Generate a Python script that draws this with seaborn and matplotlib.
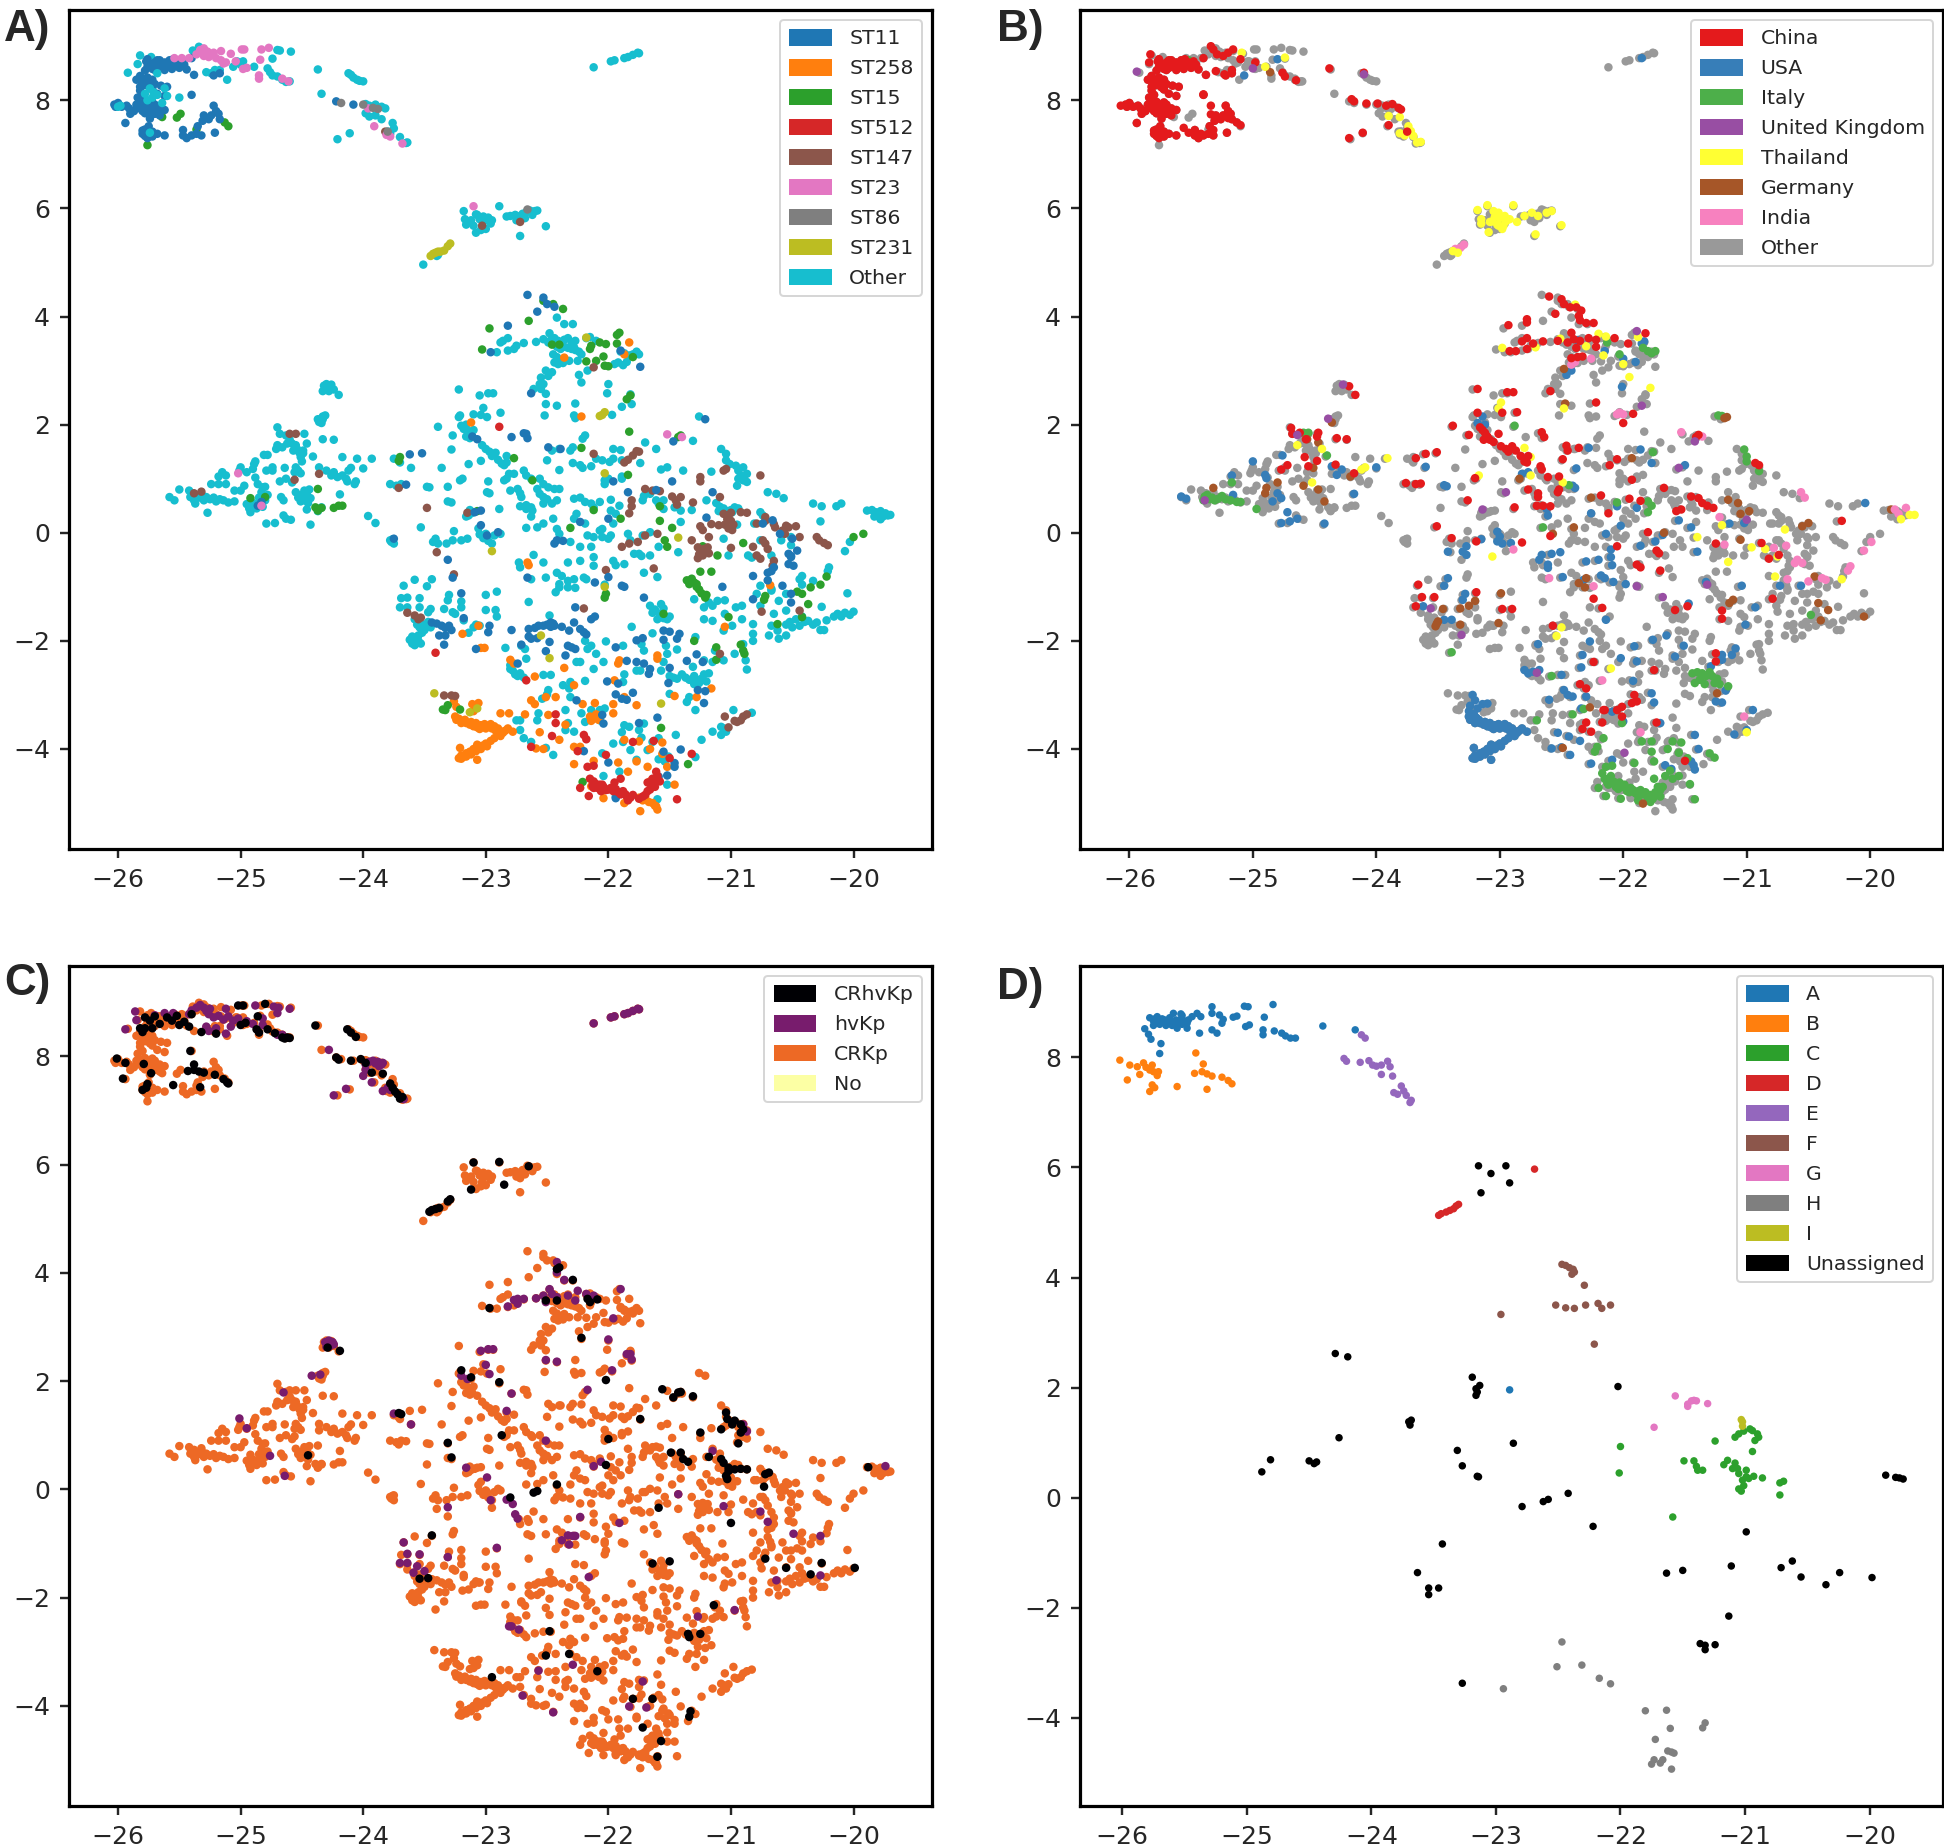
"""
plot.py
Four UMAP style scatter panels coloured by ST, country, virulence class and clade.
"""

import matplotlib
matplotlib.use("Agg")
import matplotlib.pyplot as plt
from matplotlib.patches import Patch
import pandas as pd
import seaborn as sns

# points that carry no overlay label in panel A
CLOUD_TOP = [
    (-25.82,8.83),(-25.73,8.8),(-25.92,8.51),(-25.84,8.67),(-25.34,8.99),(-25.39,8.92),(-25.28,8.52),(-25.24,8.5),
    (-25.21,8.56),(-25.17,8.56),(-25.11,8.38),(-25.06,8.62),(-25.03,8.72),(-24.98,8.72),(-25.0,8.66),(-24.89,8.62),
    (-24.74,8.77),(-24.7,8.93),(-24.68,8.92),(-24.59,8.9),(-24.78,8.59),(-24.76,8.52),(-24.74,8.46),(-24.7,8.44),
    (-24.66,8.38),(-24.63,8.34),(-24.6,8.35),(-24.37,8.57),(-24.34,8.12),(-24.12,8.5),(-24.1,8.47),(-24.08,8.42),
    (-24.05,8.38),(-24.03,8.36),(-24.0,8.35),(-24.21,7.28),(-24.11,7.39),(-23.98,7.93),(-23.95,7.9),(-23.9,7.92),
    (-23.85,7.88),(-23.82,7.85),(-23.98,7.76),(-23.95,7.7),(-23.9,7.72),(-23.85,7.65),(-23.76,7.58),(-23.75,7.48),
    (-23.7,7.32),(-23.78,7.38),(-23.8,7.42),(-23.65,7.21),(-23.64,7.22),(-22.12,8.61),(-21.98,8.72),(-21.95,8.74),
    (-21.87,8.78),(-21.84,8.8),(-21.8,8.84),(-21.76,8.88),(-21.75,8.87),(-23.18,5.95),(-23.08,5.89),(-23.17,5.8),
    (-23.16,5.7),(-23.12,5.78),(-23.07,5.88),(-23.05,5.8),(-23.02,5.85),(-23.0,5.78),(-22.96,5.72),(-22.98,5.83),
    (-23.1,5.68),(-23.08,5.55),(-23.04,5.6),(-23.0,5.62),(-22.95,5.78),(-22.89,6.04),(-22.83,5.85),(-22.8,5.86),
    (-22.76,5.88),(-22.73,5.85),(-22.7,5.9),(-22.67,5.93),(-22.64,5.96),(-22.62,5.88),(-22.6,5.95),(-22.58,5.96),
    (-22.68,5.82),(-22.75,5.78),(-22.51,5.67),(-22.72,5.49),(-23.39,5.14),(-23.4,5.12),(-23.51,4.96),
]
CLOUD_UPPER = [
    (-22.42,3.98),(-22.36,3.86),(-22.29,3.86),(-22.86,3.55),(-22.88,3.52),(-22.82,3.6),(-22.75,3.46),(-22.69,3.51),
    (-22.77,3.4),(-22.91,3.34),(-22.82,3.37),(-22.59,3.53),(-22.53,3.58),(-22.48,3.69),(-22.49,3.52),(-22.47,3.56),
    (-22.44,3.6),(-22.41,3.55),(-22.38,3.5),(-22.36,3.57),(-22.33,3.6),(-22.3,3.52),(-22.27,3.55),(-22.42,3.44),
    (-22.39,3.4),(-22.36,3.44),(-22.33,3.42),(-22.3,3.4),(-22.27,3.38),(-22.24,3.35),(-22.22,3.3),(-22.45,3.3),
    (-22.42,3.25),(-22.4,3.2),(-22.44,3.15),(-22.41,3.12),(-22.37,3.14),(-22.32,3.18),(-22.25,3.18),(-22.28,3.43),
    (-22.18,3.6),(-22.15,3.62),(-22.1,3.55),(-21.9,3.35),(-21.87,3.32),(-21.83,3.28),(-21.8,3.3),(-21.77,3.35),
    (-21.75,3.3),(-21.95,3.12),(-21.92,3.15),(-21.88,3.1),(-21.85,3.16),(-22.51,3.0),(-22.46,2.97),(-22.49,2.9),
    (-22.55,2.87),(-22.53,2.75),(-22.56,2.75),(-22.61,2.66),(-22.55,2.66),(-22.51,2.57),(-22.24,2.92),(-22.17,3.0),
    (-22.22,2.78),(-22.0,2.75),(-22.01,2.58),(-21.81,2.38),(-21.89,2.33),(-21.82,2.56),(-22.51,2.38),(-22.42,2.35),
    (-22.27,2.39),(-22.52,2.17),(-22.28,2.17),(-22.27,2.12),(-21.97,2.18),(-23.05,2.54),(-22.98,2.58),(-22.94,2.58),
    (-23.22,2.65),(-24.33,2.62),(-24.32,2.72),(-24.3,2.75),(-24.27,2.68),(-24.26,2.74),(-24.24,2.65),(-24.28,2.62),
    (-24.2,2.55),(-24.37,2.1),(-24.36,2.05),(-24.33,2.1),(-24.33,2.15),(-24.31,2.17),(-24.34,2.03),
]
CLOUD_LEFT = [
    (-24.7,1.95),(-24.68,1.83),(-24.63,1.8),(-24.6,1.72),(-24.58,1.65),(-24.55,1.62),(-24.62,1.65),(-24.66,1.58),
    (-24.7,1.62),(-24.71,1.55),(-24.57,1.52),(-24.54,1.55),(-24.52,1.48),(-24.49,1.52),(-24.46,1.65),(-24.48,1.83),
    (-24.33,1.73),(-24.24,1.72),(-24.41,1.41),(-24.5,1.32),(-24.51,1.4),(-24.49,1.47),(-24.81,1.44),(-24.78,1.44),
    (-24.88,1.32),(-24.89,1.27),(-25.0,1.21),(-25.01,1.15),(-24.95,1.12),(-24.9,1.18),(-24.79,1.15),(-24.74,1.21),
    (-24.74,1.15),(-24.64,1.2),(-24.55,1.21),(-24.53,1.15),(-24.51,1.1),(-24.56,1.12),(-24.63,1.0),(-25.15,1.12),
    (-25.18,1.04),(-25.12,1.06),(-25.24,0.9),(-25.18,0.9),(-25.12,0.9),(-25.05,0.78),(-25.0,0.78),(-24.97,0.87),
    (-24.88,1.02),(-24.86,0.9),(-24.82,0.84),(-24.8,0.85),(-24.83,0.75),(-24.78,0.7),(-24.85,0.65),(-24.9,0.55),
    (-24.86,0.5),(-24.68,0.95),(-24.58,0.93),(-24.36,1.21),(-24.3,1.15),(-24.26,1.06),(-24.24,1.12),(-24.21,1.03),
    (-24.17,1.06),(-24.14,1.0),(-24.12,1.15),(-24.1,1.2),(-24.17,1.4),(-24.05,1.37),(-23.93,1.37),(-24.0,1.19),
    (-24.06,0.95),(-24.07,0.9),(-24.13,0.95),(-24.19,0.71),(-24.55,0.75),(-24.53,0.65),(-24.5,0.7),(-24.48,0.78),
    (-24.46,0.72),(-24.44,0.8),(-24.51,0.58),(-24.48,0.6),(-24.45,0.55),(-24.43,0.64),(-24.47,0.66),(-24.67,0.66),
    (-24.65,0.6),(-24.46,0.43),(-24.37,0.4),(-24.34,0.47),(-24.95,0.53),(-24.93,0.45),(-24.92,0.38),(-24.9,0.5),
    (-24.87,0.45),(-24.85,0.55),(-24.82,0.48),(-24.8,0.6),(-24.79,0.17),(-24.72,0.18),(-24.65,0.32),(-24.63,0.26),
    (-24.59,0.24),(-24.43,0.15),(-25.27,0.37),(-25.58,0.66),(-25.54,0.6),(-25.5,0.8),(-25.42,0.78),(-25.41,0.66),
    (-25.38,0.72),(-25.38,0.6),(-25.37,0.54),(-25.35,0.66),(-25.33,0.65),(-25.3,0.6),(-25.28,0.66),(-25.25,0.62),
    (-25.22,0.65),(-25.2,0.58),(-25.17,0.62),(-25.14,0.6),(-25.1,0.56),(-25.05,0.58),(-25.32,0.72),(-23.96,0.31),
    (-23.9,0.18),(-23.53,0.1),(-23.77,-0.17),(-23.78,-0.14),(-23.75,-0.2),(-23.76,-0.12),(-23.78,0.9),(-23.73,0.87),
    (-23.69,0.9),(-23.61,1.2),(-23.36,1.2),(-23.75,1.37),(-23.7,1.3),
]
CLOUD_CENTRE = [
    (-23.39,1.96),(-23.27,1.8),(-23.28,1.54),(-23.21,2.17),(-23.22,2.14),(-23.1,2.19),(-23.02,2.31),(-22.99,2.14),
    (-22.88,2.22),(-23.04,2.18),(-23.2,1.98),(-23.18,1.92),(-23.16,2.0),(-23.14,1.88),(-23.12,1.82),(-23.16,1.78),
    (-23.13,1.75),(-23.1,1.9),(-23.03,1.62),(-23.0,1.55),(-22.97,1.5),(-22.95,1.42),(-22.92,1.48),(-22.9,1.35),
    (-22.87,1.28),(-22.85,1.25),(-22.83,1.42),(-22.83,1.3),(-23.14,1.27),(-23.04,1.33),(-23.19,1.0),(-23.21,0.97),
    (-22.98,0.95),(-22.99,0.75),(-22.97,0.73),(-23.48,0.85),(-23.31,0.85),(-23.46,0.84),(-22.83,1.0),(-22.81,1.09),
    (-22.77,1.09),(-22.85,0.97),(-22.69,1.15),(-22.67,1.06),(-22.63,1.0),(-22.56,1.0),(-22.53,0.9),(-22.49,0.84),
    (-22.44,0.81),(-22.4,0.81),(-22.58,0.81),(-22.56,0.72),(-22.53,0.66),(-22.5,0.62),(-22.46,0.54),(-22.42,0.6),
    (-22.53,0.54),(-22.8,0.78),(-22.74,0.81),(-22.72,0.73),(-22.71,0.66),(-23.31,0.58),(-23.28,0.56),(-22.72,0.49),
    (-22.67,0.51),(-22.63,0.47),(-22.62,0.41),(-22.67,0.44),(-22.89,0.44),(-23.13,0.42),(-23.12,0.36),(-23.1,0.38),
    (-23.14,0.32),(-23.16,0.3),(-23.26,0.03),(-23.41,-0.11),(-23.43,-0.17),(-23.39,-0.2),(-23.32,-0.2),(-23.27,-0.14),
    (-23.2,-0.14),(-23.15,-0.11),(-23.06,0.08),(-23.05,-0.03),(-23.02,-0.1),(-23.0,-0.02),(-22.98,-0.15),(-22.95,-0.2),
    (-22.93,-0.05),(-22.88,-0.02),(-22.67,0.09),(-22.58,0.1),(-22.53,0.17),(-22.45,0.26),(-22.63,0.3),(-22.42,0.07),
    (-22.4,-0.02),(-22.23,0.65),(-22.28,0.63),(-22.19,0.57),(-22.14,0.54),(-22.07,0.57),(-21.98,0.61),(-21.91,0.5),
    (-21.94,0.35),(-21.98,0.41),(-22.26,0.35),(-22.28,0.26),(-22.19,0.17),(-22.12,0.47),(-22.12,-0.08),(-22.05,-0.08),
    (-22.0,-0.11),(-21.98,-0.05),(-22.17,-0.05),(-22.31,-0.17),(-22.23,-0.26),(-22.14,-0.26),(-22.12,-0.45),(-22.05,0.07),
    (-22.07,0.04),(-21.96,0.17),(-21.96,1.55),(-21.9,1.53),(-21.96,1.37),(-22.29,1.58),(-22.31,1.52),(-22.4,1.55),
    (-22.5,1.34),(-22.46,1.52),(-22.29,1.29),(-22.23,1.25),(-22.21,1.2),(-22.14,1.23),(-22.1,1.37),(-22.05,1.34),
    (-21.99,1.31),(-21.89,1.34),(-21.74,1.29),(-22.4,1.16),(-22.19,1.8),(-22.21,1.74),(-22.03,0.97),(-22.0,1.0),
    (-21.89,1.0),(-22.03,0.9),(-21.89,1.04),(-21.61,1.55),(-21.7,1.67),(-21.31,1.7),(-21.26,2.15),(-21.71,0.68),
    (-21.66,0.72),(-21.72,0.6),(-21.61,0.6),(-21.59,0.54),(-21.55,0.44),(-21.46,0.47),(-21.41,0.41),(-21.32,0.42),
    (-21.41,0.2),(-21.55,0.6),(-21.84,-0.02),(-21.72,-0.05),(-21.66,0.01),(-21.82,-0.14),(-21.75,-0.39),(-21.79,-0.39),
    (-21.66,-0.42),(-21.59,-0.26),(-21.43,-0.36),
]
CLOUD_RIGHT = [
    (-21.08,1.55),(-21.04,1.46),(-21.04,1.34),(-21.01,1.27),(-20.96,1.24),(-20.94,1.15),(-20.9,1.21),(-20.92,1.06),
    (-20.87,1.09),(-20.94,1.0),(-20.9,0.97),(-20.87,0.94),(-20.95,0.87),(-21.16,1.13),(-21.39,1.15),(-21.52,1.21),
    (-21.57,1.17),(-20.7,0.75),(-20.63,0.72),(-20.57,0.64),(-21.12,0.55),(-21.09,0.48),(-21.06,0.45),(-21.03,0.4),
    (-21.0,0.42),(-20.97,0.47),(-21.1,0.4),(-20.99,0.38),(-20.94,0.45),(-21.2,0.6),(-19.89,0.41),(-19.85,0.42),
    (-19.82,0.38),(-19.78,0.4),(-19.8,0.33),(-19.76,0.3),(-19.74,0.36),(-19.72,0.32),(-19.7,0.33),(-19.78,0.25),
    (-19.83,0.3),(-20.33,0.54),(-20.26,0.49),(-20.14,0.49),(-20.1,0.54),(-20.27,0.21),(-20.03,-0.17),(-20.07,-0.34),
    (-20.76,0.38),(-20.74,0.32),(-20.81,0.17),(-20.95,0.15),(-20.51,-0.08),(-20.59,-0.14),(-20.76,-0.14),(-20.67,-0.42),
    (-20.51,-0.23),(-21.02,-0.42),(-20.86,-0.42),(-21.06,-0.11),
]
CLOUD_LOWER = [
    (-23.67,-0.98),(-23.58,-0.87),(-23.48,-0.99),(-23.44,-0.86),(-23.69,-1.21),(-23.64,-1.2),(-23.54,-1.21),(-23.7,-1.38),
    (-23.64,-1.38),(-23.54,-1.38),(-23.45,-1.41),(-23.47,-1.47),(-23.31,-1.25),(-23.3,-1.15),(-23.2,-1.27),(-23.2,-1.38),
    (-23.34,-1.41),(-23.25,-1.5),(-23.27,-1.47),(-23.18,-1.62),(-23.58,-1.6),(-23.56,-1.7),(-23.54,-1.75),(-23.52,-1.85),
    (-23.5,-1.8),(-23.55,-1.9),(-23.58,-1.95),(-23.6,-2.05),(-23.62,-1.98),(-23.58,-2.08),(-23.55,-2.0),(-23.53,-2.05),
    (-23.6,-1.92),(-23.5,-1.7),(-23.47,-1.65),(-23.45,-1.75),(-23.1,-1.75),(-23.14,-1.85),(-23.08,-1.7),(-23.05,-1.72),
    (-23.0,-1.15),(-22.91,-1.09),(-23.0,-1.43),(-22.92,-1.43),(-22.91,-1.55),(-22.65,-1.28),(-22.84,-2.13),(-22.71,-2.09),
    (-22.68,-2.15),(-22.67,-2.33),(-22.8,-2.45),(-22.78,-2.55),(-22.76,-2.62),(-22.74,-2.65),(-22.8,-2.52),(-22.72,-2.6),
    (-22.69,-2.68),(-22.53,-2.63),(-22.47,-2.63),(-22.57,-3.34),(-22.58,-3.47),(-22.75,-3.47),(-22.72,-3.47),(-22.72,-3.65),
    (-22.69,-3.8),(-22.63,-3.87),(-22.51,-3.98),(-22.45,-4.11),(-22.48,-1.53),(-22.49,-2.91),(-22.5,-2.99),(-22.54,-3.07),
    (-22.31,-2.76),(-22.37,-2.82),(-22.32,-2.88),(-22.19,-2.74),(-22.31,-3.04),(-22.35,-3.28),(-22.22,-3.34),(-22.14,-3.28),
    (-22.07,-3.28),(-22.03,-3.25),(-22.33,-3.52),(-22.35,-3.65),(-22.28,-3.68),(-22.19,-3.5),(-22.07,-3.47),(-22.23,-2.39),
    (-22.26,-2.39),(-22.12,-2.52),(-22.04,-2.39),(-22.1,-2.24),(-22.02,-2.01),(-21.88,-2.09),(-22.19,-2.0),(-22.17,-2.15),
    (-22.14,-2.09),(-21.81,-1.74),(-21.64,-1.86),(-21.73,-2.06),(-21.71,-2.18),(-21.53,-2.09),(-21.44,-2.16),(-21.52,-2.24),
    (-21.55,-2.39),(-21.57,-2.55),(-21.77,-2.55),(-21.74,-2.55),(-21.87,-2.62),(-21.88,-2.76),(-21.5,-2.65),(-21.47,-2.68),
    (-21.44,-2.7),(-21.4,-2.62),(-21.37,-2.68),(-21.34,-2.72),(-21.3,-2.65),(-21.28,-2.72),(-21.26,-2.78),(-21.24,-2.7),
    (-21.3,-2.8),(-21.22,-2.62),(-21.2,-2.75),(-21.31,-2.48),(-21.18,-2.6),(-21.22,-2.36),(-21.15,-2.39),(-21.13,-2.18),
    (-21.06,-2.36),(-20.97,-2.24),(-20.9,-2.06),(-20.88,-2.36),(-20.87,-2.53),(-21.5,-2.98),(-21.36,-3.13),(-21.29,-3.28),
    (-21.34,-3.04),(-21.24,-3.83),(-21.15,-3.68),(-21.08,-3.59),(-21.08,-3.74),(-21.04,-3.68),(-21.06,-3.62),(-20.98,-3.28),
    (-20.83,-3.33),(-21.89,-3.69),(-21.83,-3.59),(-21.75,-3.65),(-21.71,-3.53),(-21.87,-3.56),(-21.45,-3.74),(-21.59,-3.8),
    (-21.64,-3.87),(-21.73,-3.79),(-21.88,-3.87),(-21.96,-3.9),(-21.82,-4.02),(-21.68,-4.02),(-21.59,-4.19),(-21.54,-4.23),
    (-21.51,-4.14),(-21.29,-4.15),(-22.05,-4.08),(-21.77,-4.2),(-21.91,-4.42),(-22.04,-4.5),(-21.52,-4.66),(-21.94,-4.88),
    (-21.6,-4.93),(-21.89,-4.79),(-21.6,-0.82),(-21.71,-0.74),(-21.73,-0.43),(-21.87,-0.58),(-21.94,-0.6),(-21.96,-0.52),
    (-22.42,-0.74),(-22.38,-0.8),(-22.33,-0.89),(-22.4,-0.95),(-22.28,-0.86),(-22.33,-1.01),(-22.4,-1.01),(-22.27,-1.02),
    (-22.2,-0.83),(-22.18,-0.86),(-22.51,-0.83),(-22.63,-0.86),(-22.43,-1.1),(-22.03,-0.96),(-22.12,-0.61),(-22.23,-0.52),
    (-22.33,-0.55),(-22.73,-0.55),(-22.72,-0.64),(-22.61,-0.41),(-22.53,-0.55),(-21.66,-1.35),(-21.62,-1.42),(-21.58,-1.5),
    (-21.55,-1.58),(-21.6,-1.6),(-21.55,-1.4),(-21.52,-1.6),(-21.5,-1.55),(-21.64,-1.48),(-21.57,-1.32),(-21.29,-1.93),
    (-21.22,-1.38),(-21.22,-1.6),(-21.15,-1.63),(-21.3,-1.23),(-21.18,-1.29),(-21.15,-1.35),(-21.05,-1.25),(-21.11,-1.26),
    (-21.05,-1.5),(-20.96,-1.38),(-20.91,-1.35),(-20.91,-1.6),(-20.82,-1.69),(-20.82,-1.87),(-20.82,-2.0),(-21.06,-1.81),
    (-20.99,-1.72),(-20.79,-1.13),(-20.76,-1.35),(-20.67,-1.04),(-20.61,-1.26),(-20.55,-1.13),(-20.55,-1.44),(-20.65,-1.5),
    (-20.67,-1.72),(-20.69,-1.9),(-20.61,-1.96),(-20.55,-1.9),(-20.62,-1.81),(-20.55,-1.7),(-20.52,-1.65),(-20.5,-1.75),
    (-20.47,-1.6),(-20.44,-1.72),(-20.42,-1.55),(-20.4,-1.65),(-20.37,-1.63),(-20.33,-1.7),(-20.3,-1.66),(-20.27,-1.8),
    (-20.24,-1.8),(-20.22,-1.62),(-20.16,-1.55),(-20.13,-1.5),(-20.1,-1.55),(-20.07,-1.48),(-20.03,-1.52),(-20.0,-1.46),
    (-20.26,-1.37),(-20.05,-1.12),(-20.44,-0.86),(-20.42,-0.96),(-20.33,-0.89),(-20.2,-0.64),(-20.21,-0.71),(-20.76,-0.98),
    (-20.67,-1.07),(-20.42,-0.8),(-20.83,-0.46),
]
OTHER_OVER = [
    (-25.74,8.22),(-25.71,8.15),(-25.68,8.1),(-25.72,8.05),(-25.6,8.08),(-25.78,8.12),(-25.74,7.4),(-25.76,8.0),
    (-25.68,8.5),(-25.62,8.22),(-26.0,7.88),(-25.98,7.9),(-25.64,7.95),(-25.5,8.05),
]

# panel A overlays
ST11_TOP = [
    (-25.77,8.72),(-25.74,8.66),(-25.7,8.7),(-25.66,8.74),(-25.72,8.58),(-25.68,8.6),(-25.64,8.66),(-25.6,8.68),
    (-25.58,8.62),(-25.55,8.76),(-25.52,8.7),(-25.5,8.6),(-25.46,8.66),(-25.44,8.57),(-25.78,8.55),(-25.62,8.56),
    (-25.48,8.72),(-25.38,8.47),(-25.22,8.46),(-25.17,8.5),(-25.4,8.78),(-25.85,8.38),(-25.82,8.45),(-25.8,8.35),
    (-25.76,8.42),(-25.74,8.3),(-25.7,8.3),(-25.65,8.27),(-25.82,8.18),(-25.72,8.2),(-25.6,8.25),(-25.8,8.1),
    (-25.84,8.05),(-25.68,8.12),(-25.62,8.08),(-25.4,8.1),(-26.03,7.92),(-26.0,7.95),(-26.02,7.88),(-25.97,7.88),
    (-25.93,7.9),(-25.91,7.85),(-25.85,7.92),(-25.82,7.95),(-25.78,7.97),(-25.75,7.92),(-25.72,7.96),(-25.82,7.85),
    (-25.78,7.85),(-25.74,7.85),(-25.7,7.85),(-25.66,7.85),(-25.62,7.82),(-25.78,7.76),(-25.74,7.72),(-25.7,7.75),
    (-25.66,7.72),(-25.9,7.75),(-25.87,7.8),(-25.94,7.58),(-25.78,7.46),(-25.75,7.52),(-25.72,7.42),(-25.8,7.38),
    (-25.76,7.3),(-25.72,7.33),(-25.68,7.38),(-25.62,7.35),(-25.47,7.35),(-25.44,7.3),(-25.4,7.35),(-25.36,7.38),
    (-25.32,7.35),(-25.21,7.4),(-25.47,7.45),(-25.35,7.52),(-25.31,7.62),(-25.3,7.72),(-25.26,7.65),(-25.24,7.72),
    (-25.2,7.8),(-25.18,7.75),(-25.17,7.65),(-25.22,7.9),(-25.76,8.76),(-25.72,8.66),(-25.68,8.74),(-25.66,8.62),
    (-25.62,8.7),(-25.58,8.74),(-25.56,8.58),(-25.54,8.68),(-25.76,8.62),(-25.7,8.56),(-25.8,7.9),(-25.76,7.9),
    (-25.72,7.88),(-25.68,7.8),(-25.8,7.8),(-25.76,7.8),(-25.72,7.78),(-25.74,7.66),(-25.78,7.92),(-25.7,7.92),
    (-25.76,7.42),(-25.78,7.34),(-25.74,7.36),(-25.8,7.44),(-25.82,8.25),(-25.78,8.28),(-25.74,8.24),(-25.72,8.38),
]
ST11_MAIN = [
    (-22.66,4.4),(-22.53,4.35),(-22.5,4.23),(-22.44,4.18),(-22.58,4.09),(-22.82,3.83),(-22.96,3.34),(-21.74,3.07),
    (-21.9,3.37),(-22.63,2.58),(-24.22,7.98),(-24.08,7.92),(-23.62,1.45),(-23.52,1.47),(-23.65,0.89),(-24.86,0.5),
    (-24.83,0.57),(-23.11,1.78),(-23.07,1.73),(-22.79,1.77),(-22.67,1.83),(-22.69,1.84),(-22.66,1.75),(-22.49,1.58),
    (-22.39,1.55),(-21.48,0.95),(-21.15,0.75),(-21.96,0.95),(-21.84,0.75),(-21.61,0.79),(-21.21,2.1),(-21.47,1.69),
    (-21.2,0.28),(-20.74,0.17),(-20.66,0.23),(-20.6,-0.02),(-20.5,-0.11),(-20.53,-0.39),(-20.46,-0.33),(-20.51,-0.45),
    (-22.0,0.26),(-22.23,0.2),(-22.42,-0.14),(-22.44,-0.2),(-22.37,-0.15),(-23.04,0.14),(-22.99,-0.05),(-22.9,0.01),
    (-23.04,0.41),(-23.09,0.38),(-23.75,-0.11),(-23.31,-0.5),(-20.51,-0.43),(-20.53,-0.58),(-20.49,-0.61),(-20.65,-0.64),
    (-20.67,-0.71),(-20.7,-0.74),(-20.7,-0.88),(-21.07,-1.0),(-20.82,-1.23),(-20.82,-0.8),(-20.51,-1.13),(-20.51,-1.29),
    (-20.58,-0.98),(-21.71,-1.2),(-21.89,-0.98),(-21.87,-1.0),(-22.11,-0.92),(-22.0,-0.82),(-22.66,-0.83),(-23.27,-0.83),
    (-23.2,-1.12),(-23.44,-1.66),(-23.4,-1.68),(-23.36,-1.72),(-23.33,-1.76),(-23.3,-1.72),(-23.28,-1.8),(-23.33,-1.9),
    (-23.38,-1.9),(-23.34,-2.07),(-23.18,-1.58),(-22.97,-1.72),(-22.98,-1.84),(-22.79,-1.8),(-23.08,-2.15),(-22.6,-1.76),
    (-22.57,-1.72),(-22.53,-1.72),(-22.5,-1.7),(-22.47,-1.74),(-22.45,-1.68),(-22.44,-1.72),(-22.47,-1.66),(-22.65,-1.78),
    (-22.65,-1.92),(-22.63,-1.96),(-22.58,-1.95),(-22.38,-1.74),(-22.32,-1.81),(-22.28,-1.66),(-22.23,-1.78),(-22.2,-1.84),
    (-22.18,-1.88),(-22.14,-1.6),(-22.11,-1.55),(-22.27,-1.38),(-22.48,-2.02),(-22.51,-2.19),(-22.33,-2.09),(-22.3,-2.12),
    (-22.27,-2.15),(-22.35,-2.27),(-22.71,-2.07),(-22.74,-2.42),(-21.94,-2.12),(-21.77,-1.99),(-21.72,-1.95),(-21.55,-1.81),
    (-21.55,-1.98),(-21.5,-1.83),(-21.42,-1.87),(-21.44,-1.96),(-21.85,-2.37),(-21.77,-2.39),(-21.71,-2.42),(-21.66,-2.52),
    (-21.67,-2.61),(-21.5,-2.5),(-21.28,-2.25),(-21.23,-2.39),(-21.36,-2.37),(-22.01,-2.75),(-21.92,-2.79),(-21.51,-2.78),
    (-21.27,-2.91),(-21.21,-2.93),(-21.22,-3.15),(-22.26,-3.1),(-21.94,-2.99),(-21.89,-3.07),(-21.85,-3.09),(-21.8,-2.96),
    (-22.05,-3.37),(-22.04,-3.53),(-21.6,-3.42),(-21.75,-3.52),(-21.41,-4.01),(-21.55,-4.05),(-22.2,-4.04),(-22.0,-4.25),
    (-21.46,-4.33),(-21.46,-4.26),(-21.52,-4.49),(-21.59,-4.51),(-21.94,-4.91),
]
ST258_ARM = [
    (-23.25,-3.4),(-23.22,-3.44),(-23.19,-3.48),(-23.16,-3.52),(-23.13,-3.55),(-23.1,-3.58),(-23.07,-3.6),(-23.04,-3.56),
    (-23.01,-3.54),(-22.98,-3.58),(-22.95,-3.62),(-22.92,-3.66),(-22.9,-3.7),(-22.87,-3.68),(-22.84,-3.66),(-22.82,-3.62),
    (-22.78,-3.68),(-23.22,-4.17),(-23.2,-4.12),(-23.18,-4.14),(-23.16,-4.08),(-23.13,-4.05),(-23.1,-4.0),(-23.06,-3.97),
    (-23.03,-3.94),(-23.0,-3.9),(-22.96,-3.85),(-22.93,-3.8),(-22.88,-3.76),(-23.21,-3.98),(-23.07,-3.92),(-23.07,-4.2),
    (-22.86,-3.7),(-23.24,-3.46),(-23.2,-3.52),(-23.17,-3.46),(-23.12,-3.5),(-23.08,-3.52),(-23.05,-3.63),(-23.0,-3.62),
    (-22.96,-3.54),(-22.93,-3.58),(-23.2,-4.18),(-23.16,-4.14),(-23.12,-4.1),(-23.08,-4.04),(-23.04,-4.0),(-22.99,-3.95),
    (-22.9,-3.62),
]
ST258_MAIN = [
    (-22.88,-3.34),(-22.81,-3.34),(-22.68,-3.36),(-23.26,-3.12),(-23.24,-3.22),(-23.11,-3.17),(-23.06,-3.15),(-23.1,-3.3),
    (-22.63,-3.1),(-22.6,-3.17),(-22.49,-3.37),(-22.35,-3.55),(-22.56,-3.69),(-22.4,-3.83),(-22.21,-3.17),(-22.11,-3.15),
    (-21.96,-3.34),(-22.15,-3.4),(-22.12,-3.44),(-22.1,-3.36),(-22.08,-3.46),(-22.14,-3.48),(-22.06,-3.38),(-21.96,-3.17),
    (-21.77,-3.19),(-21.87,-3.04),(-21.56,-3.88),(-21.66,-4.0),(-21.75,-3.86),(-21.87,-3.83),(-22.28,-3.96),(-22.23,-3.96),
    (-22.59,-3.99),(-22.53,-4.0),(-22.28,-4.28),(-22.12,-4.22),(-21.92,-4.25),(-21.84,-4.42),(-21.68,-4.33),(-21.77,-4.23),
    (-21.52,-4.33),(-21.56,-4.09),(-21.46,-4.66),(-21.75,-4.9),(-21.72,-4.95),(-21.7,-4.88),(-21.67,-4.98),(-21.64,-5.0),
    (-21.62,-5.05),(-21.6,-5.12),(-21.74,-5.15),(-21.87,-5.0),(-22.04,-4.91),(-22.14,-4.69),(-21.66,-4.6),(-21.61,-5.06),
    (-23.04,-2.13),(-23.01,-2.13),(-23.19,-1.87),(-23.06,-1.72),(-22.8,-2.35),(-22.77,-2.42),(-22.36,-2.5),(-22.6,-2.66),
    (-21.91,-2.36),(-21.92,-2.42),(-21.6,-2.27),(-21.6,-2.33),(-21.95,-2.73),(-22.28,-2.82),(-22.51,-3.04),(-22.43,-3.04),
    (-21.16,-2.88),(-21.28,-3.04),(-21.46,-3.02),(-20.68,-0.97),(-21.05,-1.74),(-21.83,3.52),(-21.87,3.3),(-22.36,3.24),
    (-23.12,2.04),(-22.22,2.15),(-22.66,-0.55),(-22.65,-0.6),
]
ST15 = [
    (-25.76,7.17),(-25.49,7.75),(-25.52,7.68),(-25.36,7.46),(-25.13,7.59),(-25.1,7.52),(-25.64,7.69),(-22.53,4.29),
    (-22.45,4.23),(-22.37,4.14),(-22.65,3.92),(-22.97,3.78),(-23.03,3.39),(-21.91,3.7),(-21.93,3.66),(-21.93,3.5),
    (-22.07,3.52),(-22.14,3.46),(-22.15,3.4),(-22.02,3.49),(-22.4,3.48),(-22.46,3.48),(-22.04,3.26),(-22.1,3.18),
    (-22.18,3.17),(-22.03,3.09),(-22.0,3.08),(-21.82,2.54),(-21.85,2.47),(-21.8,3.25),(-24.37,0.81),(-24.92,0.64),
    (-24.8,0.66),(-24.39,0.47),(-24.34,0.46),(-24.37,0.41),(-24.24,0.46),(-24.2,0.5),(-24.17,0.5),(-23.7,1.4),
    (-23.71,1.33),(-22.77,1.38),(-22.22,1.57),(-21.83,1.87),(-21.43,1.77),(-21.41,1.8),(-21.84,1.07),(-22.62,0.97),
    (-21.58,0.49),(-21.58,0.22),(-21.48,0.09),(-21.9,0.26),(-22.12,0.42),(-22.31,0.09),(-23.07,0.4),(-21.54,-0.14),
    (-21.52,-0.26),(-21.23,-0.25),(-20.9,-0.19),(-21.11,-0.42),(-20.0,-0.08),(-19.92,-0.02),(-21.36,-0.88),(-21.34,-0.95),
    (-21.32,-0.85),(-21.3,-0.92),(-21.28,-1.0),(-21.26,-1.05),(-21.28,-0.95),(-21.24,-1.12),(-21.2,-1.15),(-21.21,-1.2),
    (-21.25,-0.72),(-21.16,-0.72),(-20.35,-1.01),(-20.27,-0.96),(-20.22,-0.81),(-20.46,-1.09),(-20.42,-1.13),(-20.72,-1.17),
    (-20.73,-1.24),(-20.37,-1.32),(-22.02,-1.13),(-22.03,-1.2),(-21.55,-1.5),(-21.02,-1.56),(-20.62,-1.69),(-20.42,-1.56),
    (-20.92,-2.07),(-20.9,-2.18),(-20.89,-2.24),(-21.12,-2.12),(-21.12,-2.35),(-21.3,-2.0),(-21.57,-3.61),(-21.35,-4.28),
    (-22.21,-4.61),(-23.31,-3.19),(-23.33,-3.28),(-23.35,-3.27),(-23.21,-3.27),
]
ST512 = [
    (-22.15,-4.55),(-22.12,-4.6),(-22.1,-4.65),(-22.12,-4.72),(-22.07,-4.66),(-22.04,-4.7),(-22.0,-4.75),(-21.96,-4.78),
    (-21.92,-4.8),(-21.88,-4.78),(-22.06,-4.78),(-21.85,-4.88),(-21.84,-4.95),(-21.75,-4.92),(-21.7,-4.85),(-21.66,-4.75),
    (-21.68,-4.62),(-21.64,-4.55),(-21.6,-4.5),(-21.58,-4.6),(-21.62,-4.7),(-21.9,-4.55),(-21.95,-4.62),(-22.23,-4.72),
    (-22.16,-4.87),(-21.44,-4.93),(-21.32,-4.09),(-21.5,-4.17),(-21.61,-4.42),(-22.02,-4.11),(-21.8,-3.87),(-22.25,-4.04),
    (-22.63,-3.96),(-22.46,-3.76),(-22.2,-3.74),(-22.18,-3.82),(-22.43,-3.36),(-22.43,-3.52),(-22.67,-2.73),(-23.41,-2.22),
    (-21.63,-3.85),(-22.17,-4.33),(-22.12,-4.31),(-22.89,1.96),(-22.13,-4.68),(-22.09,-4.72),(-22.05,-4.66),(-22.02,-4.76),
    (-21.98,-4.72),(-21.94,-4.74),(-21.9,-4.84),(-21.86,-4.84),(-21.82,-4.9),(-21.72,-4.88),(-21.68,-4.78),(-21.65,-4.66),
    (-21.62,-4.6),(-21.8,-4.85),
]
ST147 = [
    (-24.6,1.83),(-24.55,1.83),(-25.38,0.73),(-25.32,0.76),(-24.36,1.09),(-24.56,0.98),(-23.71,0.83),(-23.48,0.46),
    (-23.15,0.37),(-22.12,1.46),(-21.77,1.51),(-21.75,1.5),(-21.8,1.43),(-21.84,1.35),(-21.87,1.3),(-21.25,1.03),
    (-21.25,0.95),(-21.04,1.18),(-21.06,1.15),(-20.76,1.06),(-21.7,0.81),(-21.64,0.78),(-21.58,0.77),(-21.81,0.6),
    (-21.81,0.49),(-21.83,0.36),(-21.48,0.67),(-21.41,0.66),(-21.45,0.6),(-21.44,0.52),(-21.31,0.56),(-21.09,0.66),
    (-21.06,0.35),(-21.02,0.32),(-21.0,0.37),(-21.03,0.25),(-21.0,0.22),(-21.05,0.15),(-21.02,0.08),(-20.99,0.05),
    (-20.98,0.15),(-21.25,0.12),(-21.23,0.05),(-21.16,0.16),(-21.1,0.14),(-21.32,-0.14),(-21.18,-0.08),(-21.27,-0.27),
    (-21.25,-0.33),(-21.22,-0.3),(-21.19,-0.27),(-21.26,-0.4),(-21.23,-0.42),(-21.18,-0.38),(-21.27,-0.47),(-20.92,0.38),
    (-20.87,0.37),(-20.79,0.17),(-20.72,0.29),(-20.72,0.22),(-20.65,0.16),(-20.64,0.1),(-20.55,0.13),(-20.53,0.1),
    (-20.58,0.04),(-20.56,-0.02),(-20.47,0.12),(-20.44,-0.08),(-20.3,-0.08),(-20.28,-0.14),(-20.24,-0.19),(-20.21,-0.23),
    (-20.74,-0.14),(-20.72,-0.2),(-20.82,-0.26),(-20.7,-0.3),(-20.79,-0.42),(-20.76,-0.48),(-21.0,-0.28),(-21.89,-0.26),
    (-21.83,-0.2),(-21.76,-0.17),(-21.7,-0.05),(-21.6,-0.02),(-23.4,-0.36),(-23.26,-0.77),(-22.02,-0.69),(-21.63,-0.66),
    (-22.2,-1.4),(-23.64,-1.48),(-23.58,-1.53),(-23.55,-1.6),(-23.53,-1.57),(-20.75,-1.46),(-20.44,-1.44),(-20.65,-0.52),
    (-20.66,-0.61),(-21.09,-2.24),(-23.34,-3.01),(-23.28,-3.01),(-23.25,-3.02),(-21.05,-3.4),(-20.95,-3.5),(-20.92,-3.47),
    (-20.9,-3.4),(-20.87,-3.36),(-21.02,-3.6),(-20.97,-3.48),(-22.12,3.06),(-23.82,7.42),(-22.72,5.75),(-23.03,5.68),
]
ST23 = [
    (-25.54,8.78),(-25.48,8.78),(-25.42,8.78),(-25.36,8.85),(-25.33,8.93),(-25.3,8.96),(-25.27,8.9),(-25.3,8.82),
    (-25.26,8.8),(-25.22,8.88),(-25.2,8.78),(-25.16,8.74),(-25.14,8.68),(-25.12,8.7),(-25.04,8.72),(-25.16,8.91),
    (-25.08,8.86),(-24.99,8.94),(-24.97,8.94),(-24.83,8.94),(-24.77,8.97),(-24.84,8.75),(-24.98,8.58),(-24.95,8.6),
    (-24.85,8.46),(-24.85,8.4),(-24.66,8.4),(-24.61,8.35),(-23.96,7.85),(-23.91,7.52),(-23.81,7.36),(-23.78,7.33),
    (-23.68,7.2),(-23.1,6.04),(-25.02,1.1),(-24.83,0.5),(-21.52,1.82),(-21.4,1.77),
]
ST86 = [(-24.18,7.95),(-24.0,7.92),(-23.92,7.86),(-23.88,7.84),(-23.8,7.42),(-22.66,5.98)]
ST231 = [
    (-23.45,5.12),(-23.43,5.16),(-23.41,5.18),(-23.39,5.2),(-23.37,5.2),(-23.34,5.22),(-23.31,5.3),(-23.29,5.35),
    (-22.18,3.61),(-22.05,2.18),(-22.07,2.16),(-22.03,2.23),(-22.03,1.1),(-21.43,-0.09),(-22.95,-0.34),(-22.03,-1.0),
    (-22.55,-1.9),(-22.48,-2.32),(-23.42,-2.97),(-23.13,-3.32),(-23.07,-3.25),(-21.57,-3.16),
]

# panel B overlays
CHINA_EXTRA = [
    (-25.34,9.0),(-25.32,8.94),(-25.29,8.85),(-25.24,8.82),(-25.2,8.88),(-25.16,8.94),(-25.1,8.76),(-24.98,8.7),
    (-25.3,8.54),(-25.23,8.48),(-25.17,8.56),(-24.76,8.51),(-24.74,8.44),(-24.65,8.37),(-25.4,8.11),(-25.34,7.9),
    (-25.34,7.74),(-25.13,7.59),(-25.1,7.54),(-25.2,7.67),(-25.32,7.45),(-25.56,7.49),(-25.52,7.4),(-25.47,7.4),
    (-25.42,7.38),(-25.84,8.7),(-25.83,8.85),(-26.07,7.9),(-24.38,8.59),(-24.1,8.51),(-24.2,8.02),(-24.18,7.98),
    (-24.08,7.94),(-23.99,7.94),(-23.92,7.9),(-23.87,7.93),(-23.82,7.86),(-23.8,7.83),(-23.9,7.54),(-23.75,7.42),
    (-24.11,7.4),(-24.22,7.3),(-22.6,4.37),(-22.5,4.32),(-22.48,4.23),(-22.43,4.17),(-22.38,4.17),(-22.34,4.11),
    (-22.36,4.01),(-22.55,4.05),(-22.78,3.95),(-22.78,3.89),(-22.93,3.84),(-22.3,3.88),(-22.24,3.88),(-22.35,3.93),
    (-22.82,3.54),(-22.78,3.6),(-22.73,3.5),(-22.65,3.54),(-22.53,3.55),(-22.45,3.52),(-22.42,3.7),(-22.4,3.58),
    (-22.35,3.55),(-22.28,3.6),(-22.22,3.57),(-22.22,3.44),(-22.07,3.6),(-21.96,3.5),(-21.82,3.69),(-22.92,3.36),
    (-22.87,3.36),(-22.78,3.4),(-22.42,3.23),(-22.37,3.25),(-22.33,3.26),(-22.38,3.42),(-22.59,2.62),(-23.18,2.66),
    (-22.94,2.6),(-22.89,2.6),(-22.22,2.41),(-21.92,2.2),(-24.22,2.71),(-24.17,2.55),(-23.18,2.22),(-22.98,2.22),
    (-22.86,2.23),(-22.0,2.03),(-23.38,1.98),(-23.25,1.81),(-23.16,1.95),(-23.14,1.9),(-23.12,1.85),(-23.1,1.78),
    (-23.13,1.72),(-23.08,1.72),(-23.05,1.68),(-23.01,1.83),(-22.99,1.6),(-22.95,1.55),(-22.93,1.5),(-22.9,1.6),
    (-22.87,1.52),(-22.83,1.42),(-22.8,1.32),(-22.78,1.3),(-22.77,1.42),(-22.66,1.86),(-22.64,1.77),(-22.46,1.61),
    (-22.45,1.52),(-22.36,1.57),(-22.49,1.36),(-22.05,1.36),(-22.11,1.25),(-22.67,1.23),(-22.66,1.17),(-22.61,1.03),
    (-22.52,1.04),(-22.77,0.8),(-22.69,0.73),(-22.69,0.66),(-22.52,0.8),(-22.53,0.75),(-23.2,1.01),(-22.7,0.5),
    (-22.65,0.5),(-22.59,0.49),(-22.88,0.47),(-23.26,0.6),(-22.18,0.69),(-21.95,0.63),(-21.86,0.59),(-21.93,0.98),
    (-22.12,0.36),(-21.57,0.4),(-21.53,0.43),(-21.67,0.83),(-21.45,0.67),(-21.39,0.64),(-21.36,0.55),(-21.32,0.5),
    (-21.27,0.46),(-21.39,1.81),(-21.41,1.77),(-20.93,1.29),(-20.9,1.25),(-20.23,0.22),(-23.51,0.12),(-22.59,-0.06),
    (-23.19,-0.16),(-23.39,-0.1),(-22.82,-0.18),(-22.05,-0.25),(-21.73,-0.33),(-21.71,-0.38),(-21.8,0.01),(-21.89,-0.59),
    (-21.86,-0.64),(-21.7,-0.7),(-21.25,-0.2),(-20.88,-0.19),(-20.82,-0.48),(-20.74,-0.41),(-23.66,-0.96),(-23.63,-1.19),
    (-23.53,-1.19),(-23.68,-1.36),(-23.19,-1.1),(-22.98,-1.41),(-22.9,-1.41),(-22.57,-1.72),(-22.24,-1.22),(-22.17,-1.39),
    (-21.58,-1.43),(-21.48,-1.36),(-21.2,-1.44),(-21.2,-1.59),(-20.79,-1.22),(-24.69,1.94),(-24.68,1.83),(-24.47,1.85),
    (-24.48,1.78),(-24.62,1.85),(-24.57,1.73),(-24.32,1.75),(-24.24,1.73),(-24.58,1.4),(-24.48,1.33),(-24.72,1.25),
    (-24.77,1.17),(-24.55,1.23),(-24.33,1.26),(-24.18,1.1),(-23.68,1.38),(-23.6,1.46),(-23.51,1.49),(-23.76,0.92),
    (-23.68,0.9),(-23.64,0.91),(-21.25,-2.23),(-21.25,-2.38),(-22.24,-2.39),(-21.75,-2.54),(-22.35,-2.8),(-22.3,-2.88),
    (-21.91,-3.0),(-21.93,-3.15),(-21.89,-3.12),(-22.05,-3.28),(-22.01,-3.22),(-22.16,-3.28),(-22.15,-3.28),(-22.01,-3.4),
    (-22.17,-3.51),(-22.3,-3.51),(-22.33,-3.63),(-22.26,-3.68),(-21.73,-3.51),(-21.5,-4.22),
]
USA_EXTRA = [
    (-23.22,-3.0),(-23.2,-3.1),(-23.24,-3.2),(-23.25,-3.3),(-23.18,-3.25),(-23.14,-3.17),(-23.1,-3.16),(-23.21,-3.35),
    (-23.19,-3.42),(-25.58,0.67),(-25.54,0.63),(-25.16,0.7),(-25.17,1.06),(-25.0,1.32),(-24.9,1.07),(-24.89,1.01),
    (-24.76,1.43),(-24.18,0.72),(-24.72,0.38),(-24.64,0.26),(-24.77,0.18),(-24.7,0.21),(-24.42,0.17),(-24.8,0.73),
    (-24.84,0.58),(-24.77,0.64),(-24.36,1.23),(-24.28,1.17),(-24.32,1.07),(-24.0,1.21),(-23.6,1.22),(-23.45,0.88),
    (-23.43,0.86),(-23.18,2.03),(-23.12,2.0),(-23.14,2.15),(-22.82,1.09),(-22.77,1.12),(-22.39,0.83),(-22.41,0.87),
    (-22.28,1.57),(-21.86,1.54),(-22.38,1.19),(-22.62,0.44),(-22.61,0.32),(-22.02,0.13),(-22.26,0.36),(-21.89,0.46),
    (-22.05,0.49),(-21.55,0.23),(-21.45,0.1),(-22.14,-0.02),(-21.5,1.25),(-21.77,1.29),(-23.02,-0.16),(-22.98,-0.2),
    (-22.91,-0.19),(-23.27,-0.25),(-23.3,-0.35),(-23.27,-0.41),(-23.42,-0.35),(-23.15,-0.12),(-23.02,0.02),(-23.0,-0.07),
    (-22.66,-0.41),(-22.58,-0.39),(-22.51,-0.36),(-22.68,-0.5),(-22.61,-0.59),(-22.61,-0.65),(-22.3,-0.53),(-22.2,-0.5),
    (-22.1,-0.31),(-22.1,-0.45),(-22.09,-0.6),(-21.86,-0.24),(-21.74,-0.16),(-21.68,-0.04),(-21.4,-0.35),(-22.49,-0.82),
    (-22.32,-0.87),(-22.18,-0.79),(-22.15,-0.84),(-22.08,-0.91),(-21.98,-0.95),(-21.33,-0.91),(-21.04,-0.98),(-20.73,-0.98),
    (-20.56,-0.98),(-20.04,0.55),(-21.02,0.18),(-21.14,0.17),(-23.42,-0.84),(-23.45,-0.98),(-23.28,-1.13),(-23.3,-1.24),
    (-23.62,-1.36),(-23.45,-1.61),(-23.39,-1.61),(-21.47,-1.31),(-20.93,-1.38),(-21.01,-1.7),(-22.14,-1.61),(-22.69,-2.06),
    (-22.27,-2.01),(-22.33,-2.26),(-22.34,-2.49),(-21.91,-2.1),(-21.76,-1.98),(-21.65,-1.9),(-21.51,-2.09),(-21.58,-2.29),
    (-22.02,-2.32),(-21.89,-2.38),(-21.92,-2.74),(-22.8,-2.54),(-22.73,-2.57),(-22.68,-2.54),(-22.77,-2.6),(-22.5,-2.63),
    (-21.09,-2.14),(-21.12,-2.26),(-21.2,-2.26),(-21.2,-2.35),(-21.29,-2.47),(-22.48,-2.91),(-22.45,-3.0),(-22.41,-3.03),
    (-22.3,-3.03),(-22.6,-3.09),(-22.34,-3.25),(-22.09,-3.31),(-22,-3.49),(-21.77,-2.97),(-21.75,-3.14),(-21.7,-3.52),
    (-21.25,-3.12),(-21.2,-3.14),(-21.17,-2.92),(-20.95,-3.28),(-21,-3.65),(-21.1,-3.73),(-22.53,-3.7),(-22.44,-3.77),
    (-22.35,-3.85),(-22.43,-4.11),(-22.58,-3.99),(-22.5,-3.97),(-22.26,-4.27),(-22.09,-4.2),(-21.39,-4.0),(-21.42,-3.74),
    (-21.66,-4.3),(-21.61,-4.37),(-21.45,-4.23),(-21.43,-4.3),(-21.42,-4.38),(-25.07,8.46),(-24.8,8.76),(-22.37,3.56),
    (-21.83,3.54),(-21.85,3.5),(-22.15,3.36),(-22.0,3.22),(-21.9,3.16),(-22.42,3.0),(-22.46,2.92),(-22.01,2.7),(-21.85,8.78),
]
ITALY = [
    (-25.39,0.67),(-25.37,0.7),(-25.35,0.62),(-25.33,0.65),(-25.31,0.6),(-25.28,0.63),(-25.25,0.68),(-25.22,0.62),
    (-25.18,0.6),(-25.13,0.57),(-25.1,0.57),(-25.4,0.6),(-25.17,0.93),(-24.59,1.85),(-24.55,1.85),(-24.4,1.43),
    (-24.97,0.44),(-22.88,1.98),(-22.44,0.88),(-22.05,0.56),(-21.8,0.58),(-21.77,0.5),(-21.8,0.38),(-22.65,0.1),
    (-21.76,1.49),(-21.23,2.17),(-21.02,1.54),(-21,1.41),(-21,1.32),(-20.9,1.14),(-20.48,-1.52),(-23.39,-2.21),
    (-22.58,-2.65),(-21.44,-2.6),(-21.4,-2.58),(-21.36,-2.6),(-21.33,-2.65),(-21.3,-2.58),(-21.28,-2.65),(-21.24,-2.7),
    (-21.38,-2.72),(-21.34,-2.8),(-21.26,-2.78),(-21.22,-2.8),(-21.15,-2.84),(-21.42,-2.78),(-22.7,-3.47),(-22.41,-3.36),
    (-22.32,-3.26),(-22.01,-3.52),(-22.16,-3.8),(-22.21,-3.96),(-22.23,-4.05),(-21.85,-3.86),(-21.77,-3.86),(-21.6,-3.86),
    (-21.53,-3.88),(-21.64,-4.0),(-21.77,-4.05),(-21.55,-4.07),(-21.48,-4.17),(-21.3,-4.08),(-21.26,-4.16),(-21.75,-4.23),
    (-21.91,-4.26),(-22.14,-4.33),(-22.09,-4.31),(-22.17,-4.45),(-22.15,-4.55),(-22.13,-4.62),(-22.1,-4.5),(-22.08,-4.6),
    (-22.06,-4.7),(-22.03,-4.62),(-22,-4.7),(-21.97,-4.78),(-21.94,-4.72),(-21.9,-4.82),(-21.86,-4.76),(-21.82,-4.8),
    (-21.78,-4.85),(-21.74,-4.8),(-21.7,-4.88),(-21.72,-4.7),(-21.75,-4.55),(-21.68,-4.7),(-21.66,-4.5),(-21.62,-4.4),
    (-21.6,-4.55),(-21.55,-4.5),(-21.46,-4.65),(-22.2,-4.72),(-22.14,-4.87),(-21.42,-4.93),(-22.02,-4.92),(-21.88,-4.95),
    (-21.78,-4.98),(-25.52,8.74),(-22.03,3.3),(-21.84,3.42),(-21.8,3.36),(-21.77,3.32),(-21.74,3.36),(-22.13,3.52),(-21.2,2.16),
    (-22.12,-4.66),(-22.07,-4.62),(-22.04,-4.74),(-21.99,-4.66),(-21.95,-4.8),(-21.92,-4.76),(-21.88,-4.86),(-21.84,-4.84),
    (-21.8,-4.9),(-21.76,-4.92),(-21.72,-4.84),(-21.7,-4.76),
]
UK = [
    (-25.94,8.53),(-25.0,8.59),(-24.1,8.48),(-21.89,3.73),(-21.85,2.35),(-24.27,2.74),(-24.39,2.11),(-24.64,1.81),
    (-25.39,0.6),(-22.95,0.75),(-21.42,1.69),(-21.55,1.2),(-23.14,0.43),(-21,0.24),(-21.89,-0.99),(-21.68,-1.19),
    (-23.56,-1.4),(-23.31,-1.89),(-22.7,-2.59),(-21.99,-4.07),(-21.32,-0.96),
]
THAILAND = [
    (-23.18,5.97),(-23.1,6.06),(-22.89,6.06),(-23.15,5.8),(-23.05,5.95),(-23.01,5.92),(-22.96,5.86),(-22.92,5.8),
    (-23.08,5.75),(-23.01,5.68),(-22.97,5.68),(-23.15,5.72),(-23.09,5.56),(-22.86,5.75),(-22.71,5.52),(-22.5,5.69),
    (-22.8,5.86),(-22.74,5.92),(-22.69,5.86),(-22.62,5.92),(-22.58,5.95),(-22.98,5.62),(-23.04,5.84),(-23.0,5.82),
    (-23.06,5.76),(-22.95,5.76),(-23.02,5.7),(-23.9,7.71),(-23.81,7.69),(-23.74,7.52),(-23.72,7.43),(-23.7,7.34),
    (-23.81,7.39),(-23.77,7.35),(-23.67,7.22),(-23.64,7.23),(-24.74,8.79),(-25.09,8.88),(-24.9,8.62),(-23.38,5.21),
    (-23.34,5.18),(-22.39,4.22),(-22.98,3.42),(-22.71,3.43),(-22.51,3.59),(-22.2,3.68),(-22.14,3.63),(-22.3,3.45),
    (-22.16,3.28),(-22.0,3.12),(-21.88,3.62),(-21.95,2.88),(-21.78,2.68),(-22.48,2.3),(-22.99,2.41),(-23.01,2.3),
    (-24.52,0.93),(-24.44,1.55),(-24.64,1.62),(-24.12,1.17),(-24.09,1.21),(-23.91,1.38),(-23.17,1.06),(-22.8,1.57),
    (-22.75,1.4),(-22.75,1.06),(-22.49,0.93),(-23.06,-0.44),(-21.4,-0.08),(-21.2,0.14),(-20.69,0.06),(-20.96,-0.27),
    (-20.85,-0.3),(-21.15,-0.54),(-20.75,-0.44),(-20.77,-0.81),(-20.23,-0.86),(-19.75,0.25),(-19.68,0.33),(-19.64,0.33),
    (-22.5,-1.75),(-22.54,-1.91),(-22.1,-2.51),(-21,-3.69),
]
GERMANY = [
    (-24.86,8.52),(-22.48,3.03),(-22.47,2.39),(-21.16,2.14),(-24.36,2.04),(-24.56,1.73),(-24.47,1.67),(-24.51,1.2),
    (-24.21,1.04),(-24.8,0.93),(-24.89,0.83),(-24.9,0.73),(-24.59,0.87),(-24.47,0.8),(-25.32,0.83),(-24.42,0.58),
    (-22.84,1.0),(-22.26,0.65),(-22.4,0.1),(-22.57,-0.02),(-21.93,1.38),(-21.67,0.0),(-21.15,0.61),(-21.07,0.55),
    (-21.05,0.35),(-20.98,0.4),(-21.05,-0.13),(-20.55,0.12),(-20.5,0.18),(-19.83,0.43),(-20.45,-0.81),(-20.42,-1.3),
    (-20.34,-1.43),(-20.4,-1.62),(-20.05,-1.55),(-22.36,-0.93),(-22.3,-0.84),(-22.31,-1.01),(-22.99,-1.12),(-23.2,-1.26),
    (-23.25,-1.35),(-23.32,-1.4),(-23.01,-1.67),(-23.46,-1.41),(-23.52,-1.73),(-23.5,-1.64),(-23.51,-1.68),(-23.32,-1.7),
    (-21.14,-1.3),(-21.11,-1.24),(-21.24,-2.97),(-22.27,-3.23),(-22.49,-3.98),(-21.84,-5.01),(-21.18,2.12),
]
INDIA = [
    (-22.03,2.22),(-22.05,2.19),(-22.0,2.19),(-21.53,1.86),(-21.36,1.78),(-21.22,0.29),(-21.18,-0.22),(-20.78,-0.28),
    (-20.68,-0.24),(-20.56,0.75),(-20.53,0.65),(-19.99,-0.17),(-20.05,-0.33),(-20.16,-0.62),(-20.18,-0.7),(-20.59,-0.5),
    (-20.61,-0.56),(-20.55,-0.56),(-20.5,-0.9),(-20.39,-0.84),(-20.36,-0.87),(-20.67,-0.86),(-22.89,-0.31),(-22.6,-0.84),
    (-22.24,-0.99),(-21.86,-3.69),(-22.17,-2.73),(-21.02,-3.4),(-19.8,0.43),(-19.71,0.46),(-19.77,0.35),(-23.29,5.33),
    (-23.32,5.27),(-23.36,5.25),(-22.42,3.11),(-22.39,3.16),(-22.26,3.22),
]

# panel C overlays
HVKP = [
    (-25.86,8.83),(-25.85,8.67),(-25.94,8.5),(-25.7,8.76),(-25.62,8.8),(-25.55,8.8),(-25.42,8.78),(-25.4,8.85),
    (-25.36,8.9),(-25.33,8.95),(-25.3,8.9),(-25.28,8.84),(-25.26,8.78),(-25.22,8.72),(-25.25,8.88),(-25.18,8.75),
    (-25.14,8.68),(-25.1,8.74),(-25.06,8.66),(-25.02,8.7),(-25.12,8.88),(-24.95,8.65),(-24.9,8.6),(-25.08,8.55),
    (-25.2,8.52),(-25.26,8.47),(-25.28,8.55),(-25.12,8.42),(-24.88,8.94),(-24.82,8.7),(-24.73,8.92),(-24.69,8.9),
    (-24.6,8.88),(-24.7,8.8),(-24.82,8.58),(-24.7,8.4),(-24.66,8.4),(-24.28,8.12),(-22.12,8.61),(-21.98,8.72),
    (-21.95,8.74),(-21.87,8.78),(-21.84,8.8),(-21.8,8.84),(-21.76,8.88),(-21.75,8.87),(-23.98,7.85),(-23.95,7.9),
    (-23.92,7.92),(-23.88,7.9),(-23.85,7.85),(-23.84,7.88),(-23.87,7.82),(-23.9,7.87),(-23.98,7.75),(-24.0,7.64),
    (-23.93,7.52),(-23.84,7.36),(-23.8,7.42),(-23.78,7.38),(-24.14,7.4),(-24.24,7.28),(-23.67,7.21),(-22.42,4.2),
    (-22.42,4.01),(-22.36,3.87),(-22.77,3.5),(-22.74,3.52),(-22.69,3.52),(-22.74,3.43),(-22.82,3.38),(-22.59,3.53),
    (-22.53,3.58),(-22.48,3.7),(-22.46,3.61),(-22.42,3.55),(-22.33,3.58),(-22.27,3.49),(-22.25,3.67),(-22.18,3.61),
    (-22.12,3.58),(-22.51,3.46),(-21.9,3.7),(-21.96,3.16),(-22.0,2.77),(-21.82,2.5),(-21.85,2.5),(-21.81,2.4),
    (-22.51,2.39),(-22.42,2.36),(-23.04,2.56),(-22.98,2.59),(-22.94,2.59),(-24.31,2.72),(-24.28,2.75),(-24.25,2.72),
    (-24.3,2.63),(-24.27,2.65),(-24.24,2.68),(-24.42,2.1),(-24.35,2.12),(-23.0,2.3),(-22.97,2.13),(-23.15,2.04),
    (-23.2,2.1),(-21.97,2.2),(-22.17,1.84),(-22.79,1.77),(-24.65,1.79),(-25.01,1.31),(-24.95,1.13),(-23.61,1.2),
    (-23.75,1.4),(-22.83,1.45),(-21.15,0.71),(-20.87,1.07),(-20.9,1.2),(-22.51,0.9),(-22.12,0.43),(-22.06,0.51),
    (-24.76,0.62),(-24.64,0.25),(-19.74,0.43),(-22.99,0.22),(-23.16,0.4),(-22.83,-0.19),(-22.78,-0.27),(-22.96,-0.2),
    (-23.31,-0.33),(-22.76,-0.46),(-22.74,-0.54),(-22.23,-0.51),(-21.91,-0.62),(-21.43,-0.09),(-21.06,-0.31),(-20.76,-0.41),
    (-20.7,-0.6),(-20.49,-0.82),(-20.27,-0.86),(-22.33,-0.85),(-22.29,-0.86),(-22.27,-0.86),(-23.67,-0.98),(-23.64,-1.19),
    (-23.54,-1.2),(-23.31,-1.25),(-22.91,-1.08),(-23.7,-1.36),(-23.64,-1.36),(-23.56,-1.42),(-23.5,-1.51),(-23.59,-1.54),
    (-22.38,-0.94),(-22.32,-1.02),(-22.16,-1.62),(-20.63,-1.68),(-20.27,-1.59),(-22.81,-2.53),(-22.79,-2.53),(-22.73,-2.59),
    (-20.97,-2.23),(-21.27,-2.35),(-22.57,-3.35),(-22.7,-3.81),(-22.29,-3.24),(-21.72,-3.55),(-21.83,-4.01),(-21.69,-4.03),
    (-22.45,-4.12),
]
CRHVKP = [
    (-25.78,8.72),(-25.74,8.66),(-25.7,8.74),(-25.66,8.6),(-25.72,8.52),(-25.6,8.72),(-25.56,8.66),(-25.52,8.75),
    (-25.5,8.58),(-25.46,8.64),(-25.42,8.55),(-25.4,8.78),(-25.78,8.52),(-25.82,8.52),(-25.8,8.45),(-25.32,8.45),
    (-25.2,8.42),(-25.02,8.94),(-24.98,8.94),(-24.8,8.97),(-24.86,8.74),(-25.0,8.58),(-24.96,8.62),(-24.87,8.5),
    (-24.85,8.44),(-24.78,8.5),(-24.72,8.43),(-24.66,8.35),(-24.62,8.35),(-24.6,8.34),(-24.64,8.33),(-24.39,8.57),
    (-24.13,8.5),(-24.1,8.44),(-24.06,8.36),(-24.22,7.98),(-24.2,7.94),(-24.1,7.92),(-24.02,7.95),(-23.98,7.88),
    (-23.93,7.7),(-23.84,7.68),(-23.78,7.5),(-23.76,7.42),(-23.74,7.35),(-23.72,7.3),(-23.7,7.22),(-23.68,7.25),
    (-25.96,7.59),(-25.94,7.88),(-26.01,7.96),(-25.79,7.86),(-25.73,7.69),(-25.76,7.49),(-25.77,7.42),(-25.8,7.38),
    (-25.55,7.47),(-25.33,7.43),(-25.41,8.1),(-25.43,7.73),(-25.38,7.75),(-25.34,7.72),(-25.3,7.7),(-25.38,7.85),
    (-25.21,7.66),(-25.14,7.58),(-25.11,7.52),(-25.1,7.5),(-23.1,6.04),(-22.89,6.05),(-22.65,5.97),(-22.85,5.63),
    (-23.12,5.54),(-23.46,5.13),(-23.44,5.16),(-23.41,5.18),(-23.38,5.2),(-23.31,5.32),(-23.29,5.36),(-22.4,4.1),
    (-22.42,4.07),(-22.29,3.87),(-22.97,3.35),(-22.51,3.49),(-22.42,3.49),(-22.17,3.52),(-22.09,3.51),(-22.15,3.46),
    (-22.22,2.8),(-24.29,2.62),(-24.19,2.56),(-23.2,2.2),(-23.12,2.07),(-22.89,1.98),(-22.02,2.02),(-23.71,1.41),
    (-23.69,1.39),(-23.31,0.86),(-23.28,0.59),(-22.87,1.0),(-22.0,0.93),(-21.74,1.3),(-21.56,1.85),(-21.47,1.7),
    (-21.43,1.79),(-21.41,1.8),(-21.31,1.72),(-21.04,1.42),(-21.03,1.3),(-20.97,1.27),(-20.92,1.2),(-20.9,1.11),
    (-20.92,1.05),(-20.99,1.2),(-21.08,1.11),(-21.25,1.05),(-20.94,0.85),(-21.49,0.68),(-21.41,0.68),(-21.39,0.56),
    (-21.35,0.51),(-21.18,0.6),(-21.08,0.56),(-21.06,0.49),(-21.02,0.4),(-20.97,0.37),(-20.92,0.38),(-20.87,0.37),
    (-21.02,0.34),(-21.04,0.25),(-21.03,0.19),(-20.72,0.28),(-20.69,0.31),(-20.73,0.05),(-19.88,0.41),(-22.02,0.45),
    (-24.45,0.63),(-22.61,-0.06),(-22.58,-0.03),(-22.42,0.09),(-22.8,-0.15),(-21.59,-0.34),(-21.0,-0.62),(-23.44,-0.85),
    (-23.54,-1.65),(-23.47,-1.64),(-21.64,-1.37),(-21.5,-1.33),(-20.55,-1.45),(-20.72,-1.28),(-20.26,-1.36),(-19.99,-1.45),
    (-20.35,-1.57),(-21.14,-2.14),(-22.48,-2.62),(-21.35,-2.67),(-21.25,-2.67),(-21.34,-2.73),(-22.51,-3.07),(-22.32,-3.04),
    (-22.09,-3.36),(-22.95,-3.47),(-21.8,-3.87),(-21.64,-3.87),(-21.33,-4.1),(-21.34,-4.2),(-21.72,-4.4),(-21.57,-4.65),
    (-21.6,-4.94),
]

# panel D, KL clades
CLADE_A = [
    (-25.78,8.72),(-25.75,8.66),(-25.72,8.74),(-25.7,8.6),(-25.68,8.7),(-25.65,8.64),(-25.62,8.72),(-25.6,8.58),
    (-25.57,8.68),(-25.55,8.62),(-25.52,8.76),(-25.5,8.66),(-25.47,8.68),(-25.75,8.58),(-25.65,8.58),(-25.52,8.6),
    (-25.82,8.52),(-25.79,8.42),(-25.77,8.33),(-25.69,8.25),(-25.7,8.07),(-25.59,8.8),(-25.53,8.79),(-25.53,8.69),
    (-25.56,8.53),(-25.48,8.53),(-25.48,8.62),(-25.44,8.74),(-25.4,8.8),(-25.37,8.74),(-25.38,8.44),(-25.28,8.5),
    (-25.24,8.44),(-25.28,8.92),(-25.28,8.8),(-25.22,8.77),(-25.19,8.69),(-25.2,8.62),(-25.11,8.73),(-25.08,8.75),
    (-25.02,8.93),(-24.99,8.92),(-24.79,8.96),(-24.86,8.73),(-25.01,8.56),(-24.98,8.59),(-24.87,8.5),(-24.87,8.41),
    (-24.78,8.48),(-24.72,8.44),(-24.69,8.39),(-24.65,8.35),(-24.61,8.35),(-24.39,8.57),(-24.13,8.5),(-22.89,1.96),
    (-25.74,8.7),(-25.7,8.66),(-25.66,8.68),(-25.62,8.62),(-25.58,8.64),(-25.72,8.62),
]
CLADE_B = [
    (-26.02,7.95),(-25.94,7.86),(-25.88,7.83),(-25.83,7.9),(-25.81,7.82),(-25.76,7.86),(-25.78,7.77),(-25.75,7.74),
    (-25.71,7.74),(-25.72,7.67),(-25.86,7.69),(-25.96,7.59),(-25.76,7.5),(-25.74,7.45),(-25.78,7.38),(-25.56,7.47),
    (-25.41,8.08),(-25.35,7.88),(-25.42,7.71),(-25.36,7.74),(-25.32,7.7),(-25.28,7.66),(-25.2,7.64),(-25.15,7.58),
    (-25.12,7.52),(-25.32,7.42),
]
CLADE_C = [
    (-22.0,0.93),(-22.01,0.45),(-21.58,-0.35),(-21.24,1.03),(-21.08,1.1),(-21.05,1.16),(-21.01,1.21),(-20.96,1.25),
    (-20.94,1.22),(-20.9,1.16),(-20.89,1.1),(-20.92,1.04),(-20.94,0.84),(-21.49,0.67),(-21.41,0.67),(-21.39,0.57),
    (-21.38,0.5),(-21.34,0.5),(-21.17,0.6),(-21.14,0.68),(-21.08,0.63),(-21.1,0.53),(-21.06,0.53),(-21.05,0.44),
    (-20.99,0.5),(-20.99,0.38),(-20.97,0.35),(-20.93,0.39),(-20.86,0.36),(-21.02,0.32),(-21.01,0.22),(-21.05,0.16),
    (-21.03,0.12),(-20.72,0.27),(-20.69,0.3),(-20.72,0.05),
]
CLADE_D = [(-23.46,5.13),(-23.44,5.16),(-23.4,5.19),(-23.37,5.22),(-23.34,5.25),(-23.32,5.3),(-23.3,5.33),(-22.69,5.97)]
CLADE_E = [
    (-24.22,7.98),(-24.2,7.93),(-24.09,7.91),(-24.02,7.94),(-23.99,7.86),(-23.96,7.84),(-23.92,7.86),(-23.87,7.93),
    (-23.85,7.83),(-23.92,7.69),(-23.83,7.66),(-23.76,7.48),(-23.74,7.39),(-23.82,7.36),(-23.79,7.33),(-23.72,7.31),
    (-23.68,7.22),(-23.69,7.18),(-24.08,8.41),(-24.05,8.35),
]
CLADE_F = [
    (-22.47,4.24),(-22.44,4.22),(-22.41,4.18),(-22.38,4.15),(-22.37,4.1),(-22.39,4.06),(-22.29,3.86),(-22.52,3.5),
    (-22.44,3.45),(-22.37,3.44),(-22.28,3.5),(-22.18,3.53),(-22.15,3.44),(-22.08,3.5),(-22.96,3.33),(-22.21,2.79),
]
CLADE_G = [(-21.56,1.85),(-21.41,1.77),(-21.43,1.76),(-21.39,1.76),(-21.46,1.7),(-21.46,1.66),(-21.3,1.71),(-21.73,1.28)]
CLADE_H = [
    (-22.47,-2.62),(-22.51,-3.07),(-22.31,-3.04),(-22.17,-3.28),(-22.08,-3.38),(-22.94,-3.47),(-21.8,-3.87),(-21.63,-3.86),
    (-21.32,-4.09),(-21.34,-4.18),(-21.6,-4.19),(-21.72,-4.39),(-21.62,-4.6),(-21.59,-4.62),(-21.57,-4.64),(-21.73,-4.76),
    (-21.75,-4.84),(-21.66,-4.76),(-21.68,-4.82),(-21.59,-4.93),
]
CLADE_I = [(-21.03,1.42),(-21.02,1.38),(-21.02,1.3)]
UNASSIGNED = [
    (-23.14,6.03),(-22.92,6.03),(-23.04,5.89),(-22.89,5.72),(-23.12,5.54),(-24.29,2.62),(-24.19,2.56),(-23.19,2.19),
    (-23.13,2.04),(-23.16,1.98),(-23.15,1.92),(-23.16,1.86),(-22.02,2.02),(-23.68,1.41),(-23.7,1.38),(-23.69,1.32),
    (-24.26,1.09),(-24.81,0.69),(-24.88,0.47),(-24.5,0.67),(-24.46,0.62),(-24.44,0.65),(-22.86,0.99),(-23.31,0.86),
    (-23.27,0.58),(-23.15,0.39),(-23.14,0.38),(-22.79,-0.16),(-22.62,-0.07),(-22.58,-0.03),(-22.42,0.08),(-22.22,-0.52),
    (-20.99,-0.62),(-23.43,-0.84),(-23.63,-1.36),(-23.54,-1.64),(-23.46,-1.64),(-23.54,-1.76),(-21.63,-1.37),(-21.5,-1.32),
    (-21.11,-1.24),(-20.71,-1.27),(-20.62,-1.15),(-20.55,-1.44),(-20.35,-1.58),(-20.24,-1.36),(-19.98,-1.45),(-21.13,-2.15),
    (-21.36,-2.65),(-21.32,-2.68),(-21.32,-2.76),(-21.24,-2.67),(-23.27,-3.37),(-19.87,0.41),(-19.79,0.37),(-19.76,0.36),
    (-19.73,0.34),
]

ST_LABELS = ["ST11", "ST258", "ST15", "ST512", "ST147", "ST23", "ST86", "ST231", "Other"]
COUNTRY_LABELS = ["China", "USA", "Italy", "United Kingdom", "Thailand", "Germany", "India", "Other"]
CLASS_LABELS = ["CRhvKp", "hvKp", "CRKp", "No"]
CLADE_LABELS = ["A", "B", "C", "D", "E", "F", "G", "H", "I", "Unassigned"]

ST_COLORS = ["#1f77b4", "#ff7f0e", "#2ca02c", "#d62728", "#8c564b", "#e377c2", "#7f7f7f", "#bcbd22", "#17becf"]
COUNTRY_COLORS = ["#e41a1c", "#377eb8", "#4daf4a", "#984ea3", "#ffff33", "#a65628", "#f781bf", "#999999"]
CLASS_COLORS = ["#000004", "#781c6d", "#ed6925", "#fcffa4"]
CLADE_COLORS = ["#1f77b4", "#ff7f0e", "#2ca02c", "#d62728", "#9467bd", "#8c564b", "#e377c2", "#7f7f7f", "#bcbd22", "#000000"]


def make_frame(groups):
    rows = []
    for label, pts in groups:
        rows.extend((x, y, label) for x, y in pts)
    return pd.DataFrame(rows, columns=["x", "y", "group"])


def draw_panel(ax, df, labels, colors, xlim, ylim, size=18):
    palette = dict(zip(labels, colors))
    sns.scatterplot(data=df, x="x", y="y", hue="group", palette=palette, s=size,
                    linewidth=0, legend=False, ax=ax)
    ax.set_xlim(*xlim)
    ax.set_ylim(*ylim)
    ax.set_xlabel("")
    ax.set_ylabel("")
    ax.set_xticks(range(-26, -19))
    ax.set_yticks(range(-4, 10, 2))
    ax.tick_params(labelsize=12.5, length=4.5, width=1.2, pad=5)
    handles = [Patch(facecolor=c, label=l) for l, c in zip(labels, colors)]
    ax.legend(handles=handles, loc="upper right", fontsize=10.2, handleheight=1.0,
              handlelength=2.2, labelspacing=0.48)
    for side in ax.spines.values():
        side.set_linewidth(1.6)


cloud = CLOUD_TOP + CLOUD_UPPER + CLOUD_LEFT + CLOUD_CENTRE + CLOUD_RIGHT + CLOUD_LOWER
st11 = ST11_TOP + ST11_MAIN
st258 = ST258_ARM + ST258_MAIN
everything = cloud + st11 + st258 + ST15 + ST512 + ST147 + ST23 + ST86 + ST231

st_groups = [("Other", cloud), ("ST258", st258), ("ST15", ST15), ("ST147", ST147), ("ST11", st11),
             ("ST512", ST512), ("ST23", ST23), ("ST86", ST86), ("ST231", ST231), ("Other", OTHER_OVER)]
country_groups = [("Other", everything), ("USA", ST258_ARM + USA_EXTRA), ("Italy", ITALY),
                  ("Germany", GERMANY), ("India", INDIA), ("Thailand", THAILAND),
                  ("China", ST11_TOP + CHINA_EXTRA), ("United Kingdom", UK)]
class_groups = [("CRKp", everything), ("hvKp", HVKP), ("CRhvKp", CRHVKP)]
clade_groups = [("A", CLADE_A), ("B", CLADE_B), ("C", CLADE_C), ("D", CLADE_D), ("E", CLADE_E),
                ("F", CLADE_F), ("G", CLADE_G), ("H", CLADE_H), ("I", CLADE_I), ("Unassigned", UNASSIGNED)]

sns.set_style("ticks")
plt.rcParams["font.family"] = "DejaVu Sans"
plt.rcParams["axes.edgecolor"] = "black"

W, H = 1944, 1846
fig = plt.figure(figsize=(W / 144, H / 144), dpi=144)


def box(left, top, right, bottom):
    return fig.add_axes([left / W, 1 - bottom / H, (right - left) / W, (bottom - top) / H])


draw_panel(box(69, 10, 932, 849), make_frame(st_groups), ST_LABELS, ST_COLORS,
           (-26.4, -19.36), (-5.85, 9.67))
draw_panel(box(1080, 10, 1943, 849), make_frame(country_groups), COUNTRY_LABELS, COUNTRY_COLORS,
           (-26.4, -19.41), (-5.85, 9.67))
draw_panel(box(69, 966, 932, 1806), make_frame(class_groups), CLASS_LABELS, CLASS_COLORS,
           (-26.4, -19.36), (-5.85, 9.67))
draw_panel(box(1080, 966, 1943, 1806), make_frame(clade_groups), CLADE_LABELS, CLADE_COLORS,
           (-26.34, -19.41), (-5.6, 9.66), size=14)

for label, fx, fy in [("A)", 0.002, 0.978), ("B)", 0.513, 0.978), ("C)", 0.002, 0.461), ("D)", 0.513, 0.459)]:
    fig.text(fx, fy, label, fontsize=22, fontweight="bold", family="Liberation Sans", va="baseline")

fig.savefig("out.png", dpi=144)
plt.close(fig)
